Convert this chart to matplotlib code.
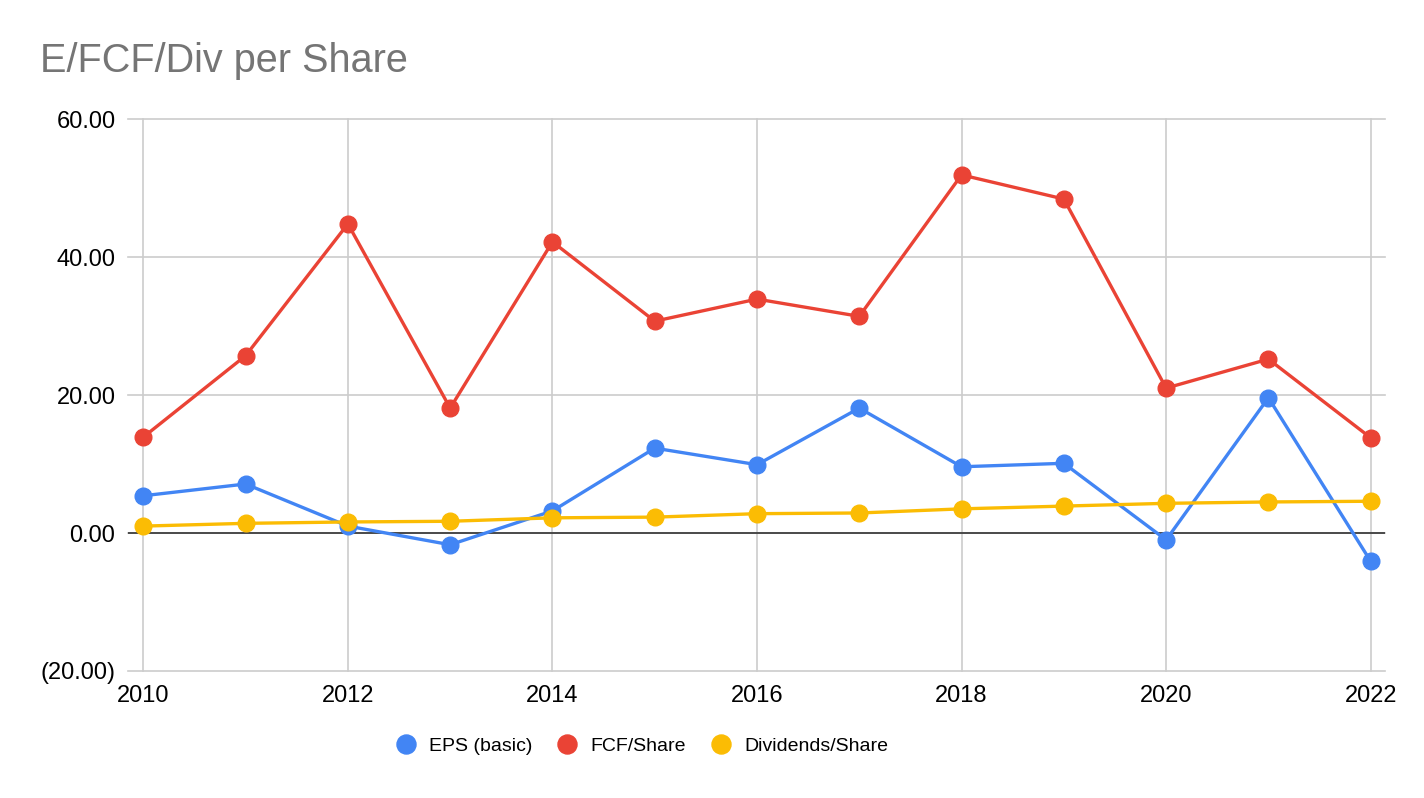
import matplotlib.pyplot as plt
from matplotlib.lines import Line2D
from matplotlib.ticker import FuncFormatter

plt.rcParams["font.family"] = ["Liberation Sans", "DejaVu Sans"]

years = list(range(2010, 2023))
eps = [5.4, 7.1, 1.0, -1.7, 3.2, 12.3, 9.9, 18.1, 9.6, 10.1, -1.0, 19.6, -4.1]
fcf = [13.9, 25.7, 44.8, 18.1, 42.2, 30.7, 33.9, 31.4, 51.9, 48.4, 21.0, 25.2, 13.8]
div = [1.0, 1.4, 1.6, 1.7, 2.2, 2.3, 2.8, 2.9, 3.5, 3.9, 4.3, 4.5, 4.6]

names = ["EPS (basic)", "FCF/Share", "Dividends/Share"]
colors = ["#4285F4", "#EA4335", "#FBBC04"]

W, H = 1424, 798
fig = plt.figure(figsize=(W / 100, H / 100), dpi=100)
ax = fig.add_axes([128 / W, 1 - 671 / H, (1385 - 128) / W, (671 - 119) / H])

for vals, c in zip([eps, fcf, div], colors):
    ax.plot(years, vals, color=c, linewidth=2.4, marker="o", markersize=12,
            solid_capstyle="round", zorder=3, clip_on=False)

ax.set_xlim(2009.85, 2022.14)
ax.set_ylim(-20, 60)
ax.set_xticks(range(2010, 2023, 2))
ax.set_yticks([-20, 0, 20, 40, 60])


def fmt(v, pos):
    if v < 0:
        return f"({abs(v):.2f})"
    return f"{v:.2f}"


ax.yaxis.set_major_formatter(FuncFormatter(fmt))
ax.set_axisbelow(True)
ax.grid(True, color="#cccccc", linewidth=1.2)
for gl in ax.get_xgridlines() + ax.get_ygridlines():
    gl.set_clip_on(False)
ax.axhline(0, color="#333333", linewidth=1.2, zorder=2)
for s in ax.spines.values():
    s.set_visible(False)
ax.tick_params(length=0, labelsize=17, colors="#000000")
ax.tick_params(axis="y", pad=9)
ax.tick_params(axis="x", pad=10)

fig.text(40 / W, 1 - 72 / H, "E/FCF/Div per Share", fontsize=28.5,
         color="#757575", ha="left", va="baseline")

handles = [Line2D([], [], linestyle="none", marker="o", markersize=13.7,
                  color=c) for c in colors]
fig.legend(handles, names, loc="center", bbox_to_anchor=(642 / W, 1 - 746 / H),
           ncol=3, frameon=False, fontsize=14, handlelength=1.0,
           handletextpad=0.69, columnspacing=1.3)

fig.savefig("out.png", dpi=100, facecolor="white")
